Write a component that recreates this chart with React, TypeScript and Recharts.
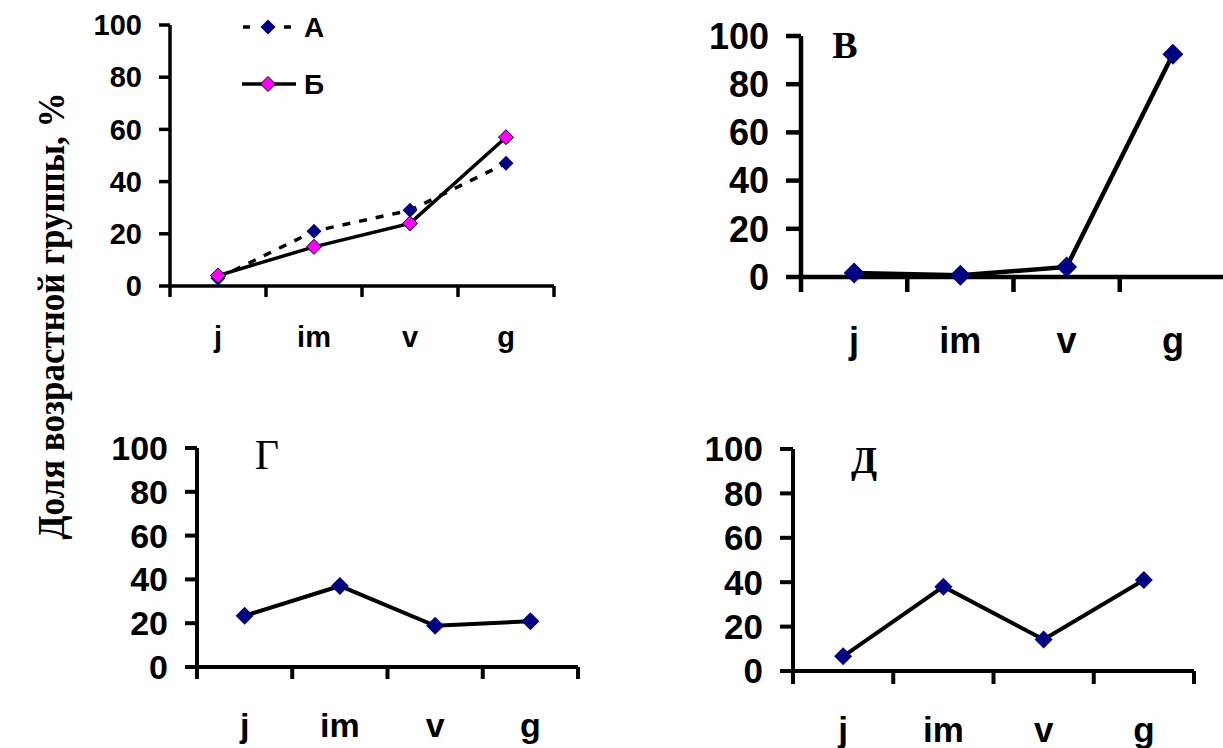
import React from "react";
import { LineChart, Line, XAxis, YAxis, Legend } from "recharts";

const categories = ["j", "im", "v", "g"];
const yTicks = [0, 20, 40, 60, 80, 100];
const xTicks = [0, 0.5, 1, 1.5, 2, 2.5, 3, 3.5, 4];

// panel А/Б (two series)
const seriesA = [3, 21, 29, 47];
const seriesB = [4, 15, 24, 57];
// panels В, Г, Д
const seriesV = [1.7, 0.7, 4.2, 92.4];
const seriesG = [23.4, 37, 18.8, 20.9];
const seriesD = [6.6, 38, 14.2, 41];

const SANS = "'Liberation Sans', Arial, sans-serif";
const SERIF = "'Liberation Serif', 'Times New Roman', serif";
const NAVY = "#000080";
const MAGENTA = "#ff00ff";

const buildRows = (...cols: number[][]) =>
  categories.map((c, i) => {
    const row: any = { cat: c, pos: i + 0.5 };
    cols.forEach((col, k) => (row["s" + k] = col[i]));
    return row;
  });

const diamond = (fill: string, size: number, stroke?: string) => (props: any) => {
  const { cx, cy, index } = props;
  if (cx == null || cy == null) return <g key={index} />;
  const h = size / 2;
  return (
    <polygon
      key={index}
      points={`${cx},${cy - h} ${cx + h},${cy} ${cx},${cy + h} ${cx - h},${cy}`}
      fill={fill}
      stroke={stroke ?? "none"}
      strokeWidth={1}
    />
  );
};

type PanelProps = {
  axisX: number;
  plotTop: number;
  plotW: number;
  plotH: number;
  font: number;
  tickLen: number;
  stroke: number;
  labelOffset: number;
  rows: any[];
  children: React.ReactNode;
};

const YW = 110;
const MT = 20;
const MR = 20;
const XH = 90;

function Panel({ axisX, plotTop, plotW, plotH, font, tickLen, stroke, labelOffset, rows, children }: PanelProps) {
  const renderXTick = (props: any) => {
    const { x, y, payload } = props;
    const v = payload.value;
    if (Number.isInteger(v)) {
      return <line x1={x} y1={y} x2={x} y2={y + tickLen} stroke="#000" strokeWidth={stroke} />;
    }
    return (
      <text
        x={x}
        y={y + labelOffset}
        dy="0.35em"
        textAnchor="middle"
        fill="#000"
        fontSize={font}
        fontWeight="bold"
        fontFamily={SANS}
      >
        {categories[Math.floor(v)]}
      </text>
    );
  };

  return (
    <div style={{ position: "absolute", left: axisX - YW, top: plotTop - MT }}>
      <LineChart
        width={YW + plotW + MR}
        height={MT + plotH + XH}
        data={rows}
        margin={{ top: MT, right: MR, left: 0, bottom: 0 }}
      >
        <XAxis
          dataKey="pos"
          type="number"
          domain={[0, 4]}
          ticks={xTicks}
          interval={0}
          height={XH}
          tickSize={0}
          tickMargin={0}
          tickLine={false}
          axisLine={{ stroke: "#000", strokeWidth: stroke }}
          tick={renderXTick}
        />
        <YAxis
          domain={[0, 100]}
          ticks={yTicks}
          interval={0}
          width={YW}
          tickSize={tickLen}
          tickMargin={17}
          axisLine={{ stroke: "#000", strokeWidth: stroke }}
          tickLine={{ stroke: "#000", strokeWidth: stroke }}
          tick={{ fill: "#000", fontSize: font, fontWeight: "bold", fontFamily: SANS }}
        />
        {children}
      </LineChart>
    </div>
  );
}

const legendContent = () => (
  <svg width={110} height={95}>
    <line x1={5} y1={22} x2={12} y2={22} stroke="#000" strokeWidth={3.5} />
    <line x1={46} y1={22} x2={53} y2={22} stroke="#000" strokeWidth={3.5} />
    <polygon points="30,14.5 37.5,22 30,29.5 22.5,22" fill={NAVY} />
    <text x={66} y={22} dy="0.35em" fontSize={28} fontWeight="bold" fontFamily={SANS} fill="#000">
      А
    </text>
    <line x1={4} y1={79} x2={58} y2={79} stroke="#000" strokeWidth={3.5} />
    <polygon points="30,71.5 37.5,79 30,86.5 22.5,79" fill={MAGENTA} stroke="#000" strokeWidth={1} />
    <text x={66} y={79} dy="0.35em" fontSize={28} fontWeight="bold" fontFamily={SANS} fill="#000">
      Б
    </text>
  </svg>
);

const panelLabel = (text: string, x: number, y: number, size: number, weight: string) => (
  <div
    style={{
      position: "absolute",
      left: x,
      top: y,
      transform: "translate(-50%, -50%)",
      fontFamily: SERIF,
      fontSize: size,
      fontWeight: weight as any,
      lineHeight: 1,
      color: "#000",
    }}
  >
    {text}
  </div>
);

export default function App() {
  return (
    <div
      style={{
        position: "absolute",
        left: 0,
        top: 0,
        width: 1223,
        height: 748,
        overflow: "hidden",
        background: "#fff",
      }}
    >
      <div
        style={{
          position: "absolute",
          left: 51,
          top: 316,
          transform: "translate(-50%, -50%) rotate(-90deg) scaleX(0.92)",
          whiteSpace: "nowrap",
          fontFamily: SERIF,
          fontWeight: "bold",
          fontSize: 38,
          color: "#000",
        }}
      >
        Доля возрастной группы, %
      </div>

      <Panel axisX={170} plotTop={25} plotW={384} plotH={261} font={29} tickLen={11} stroke={3.5} labelOffset={51} rows={buildRows(seriesA, seriesB)}>
        <Legend
          layout="vertical"
          align="center"
          verticalAlign="middle"
          content={legendContent}
          wrapperStyle={{ left: 238 - 60, top: 0, width: 110 }}
        />
        <Line
          type="linear"
          dataKey="s0"
          stroke="#000"
          strokeWidth={3.5}
          strokeDasharray="8 9"
          dot={diamond(NAVY, 15)}
          activeDot={false}
          isAnimationActive={false}
        />
        <Line
          type="linear"
          dataKey="s1"
          stroke="#000"
          strokeWidth={3.5}
          dot={diamond(MAGENTA, 15, "#000")}
          activeDot={false}
          isAnimationActive={false}
        />
      </Panel>

      <Panel axisX={801} plotTop={36} plotW={425} plotH={241} font={36} tickLen={15} stroke={4.5} labelOffset={63} rows={buildRows(seriesV)}>
        <Line type="linear" dataKey="s0" stroke="#000" strokeWidth={4.5} dot={diamond(NAVY, 21)} activeDot={false} isAnimationActive={false} />
      </Panel>

      <Panel axisX={197} plotTop={448} plotW={381} plotH={219} font={34} tickLen={12} stroke={4} labelOffset={58} rows={buildRows(seriesG)}>
        <Line type="linear" dataKey="s0" stroke="#000" strokeWidth={4} dot={diamond(NAVY, 18)} activeDot={false} isAnimationActive={false} />
      </Panel>

      <Panel axisX={793} plotTop={449} plotW={401} plotH={222} font={35} tickLen={13} stroke={4} labelOffset={59} rows={buildRows(seriesD)}>
        <Line type="linear" dataKey="s0" stroke="#000" strokeWidth={4} dot={diamond(NAVY, 18)} activeDot={false} isAnimationActive={false} />
      </Panel>

      {panelLabel("В", 845, 45, 38, "bold")}
      {panelLabel("Г", 267, 455, 42, "normal")}
      {panelLabel("Д", 864, 460, 38, "bold")}
    </div>
  );
}
